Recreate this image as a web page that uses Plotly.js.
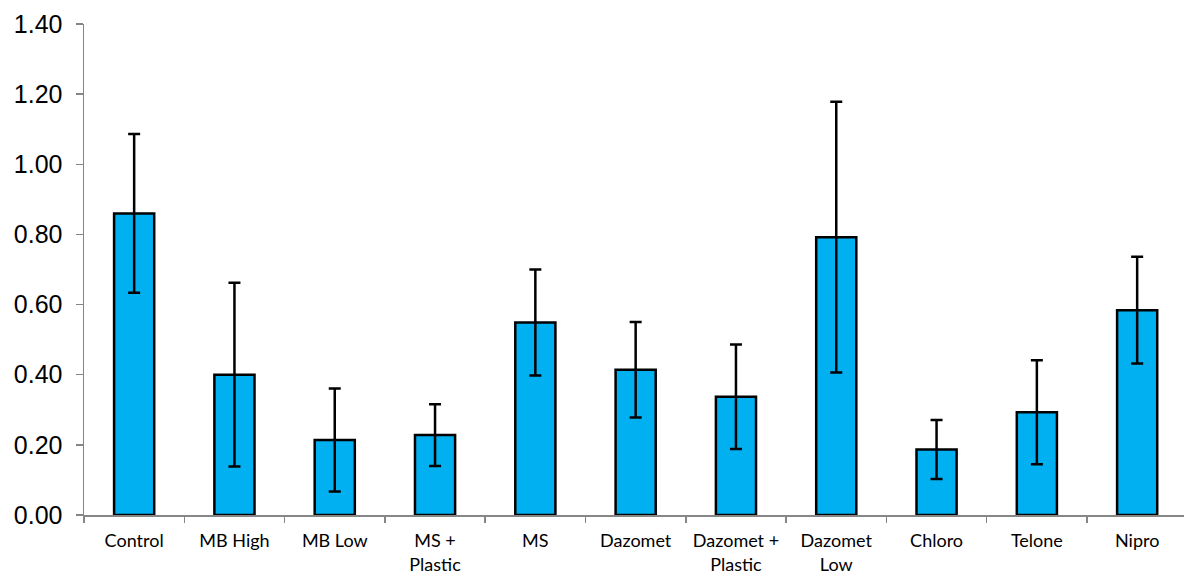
<!DOCTYPE html>
<html>
<head>
<meta charset="utf-8">
<script src="https://cdn.plot.ly/plotly-3.0.1.min.js"></script>
<style>html,body{margin:0;padding:0;background:#fff;}#chart{width:1184px;height:577px;}</style>
</head>
<body>
<div id="chart"></div>
<script>
const categories = ["Control", "MB High", "MB Low", "MS +<br>Plastic", "MS", "Dazomet", "Dazomet +<br>Plastic", "Dazomet<br>Low", "Chloro", "Telone", "Nipro"];
const means = [0.86, 0.40, 0.214, 0.228, 0.549, 0.414, 0.337, 0.792, 0.187, 0.293, 0.584];
const errors = [0.226, 0.262, 0.147, 0.088, 0.151, 0.136, 0.149, 0.386, 0.084, 0.148, 0.152];

const trace = {
  type: 'bar',
  x: categories,
  y: means,
  width: 0.4,
  marker: {color: '#00B0F0', line: {color: '#000000', width: 2.5}},
  error_y: {type: 'data', array: errors, visible: true, color: '#000000', thickness: 2.5, width: 6},
  hoverinfo: 'none'
};

const layout = {
  width: 1184,
  height: 577,
  margin: {l: 84, r: 0, t: 24, b: 62},
  paper_bgcolor: '#ffffff',
  plot_bgcolor: '#ffffff',
  showlegend: false,
  xaxis: {
    type: 'category',
    range: [-0.5, 10.467],
    showline: true,
    linecolor: '#868686',
    linewidth: 1.5,
    ticks: 'outside',
    tickson: 'boundaries',
    ticklen: 6,
    tickcolor: '#868686',
    tickwidth: 1.5,
    tickangle: 0,
    showgrid: false,
    zeroline: false,
    tickfont: {family: 'Lato, "Open Sans", sans-serif', size: 18, color: '#000'},
    automargin: false,
    ticklabelstandoff: 9
  },
  yaxis: {
    range: [0, 1.4],
    dtick: 0.2,
    tick0: 0,
    tickformat: '.2f',
    showline: true,
    linecolor: '#868686',
    linewidth: 1.5,
    ticks: 'outside',
    ticklen: 7,
    tickcolor: '#868686',
    tickwidth: 1.5,
    showgrid: false,
    zeroline: false,
    tickfont: {family: '"Liberation Sans", Arial, sans-serif', size: 25, color: '#000'},
    automargin: false,
    ticklabelstandoff: 8
  }
};

Plotly.newPlot('chart', [trace], layout, {staticPlot: true, displayModeBar: false});
</script>
</body>
</html>
